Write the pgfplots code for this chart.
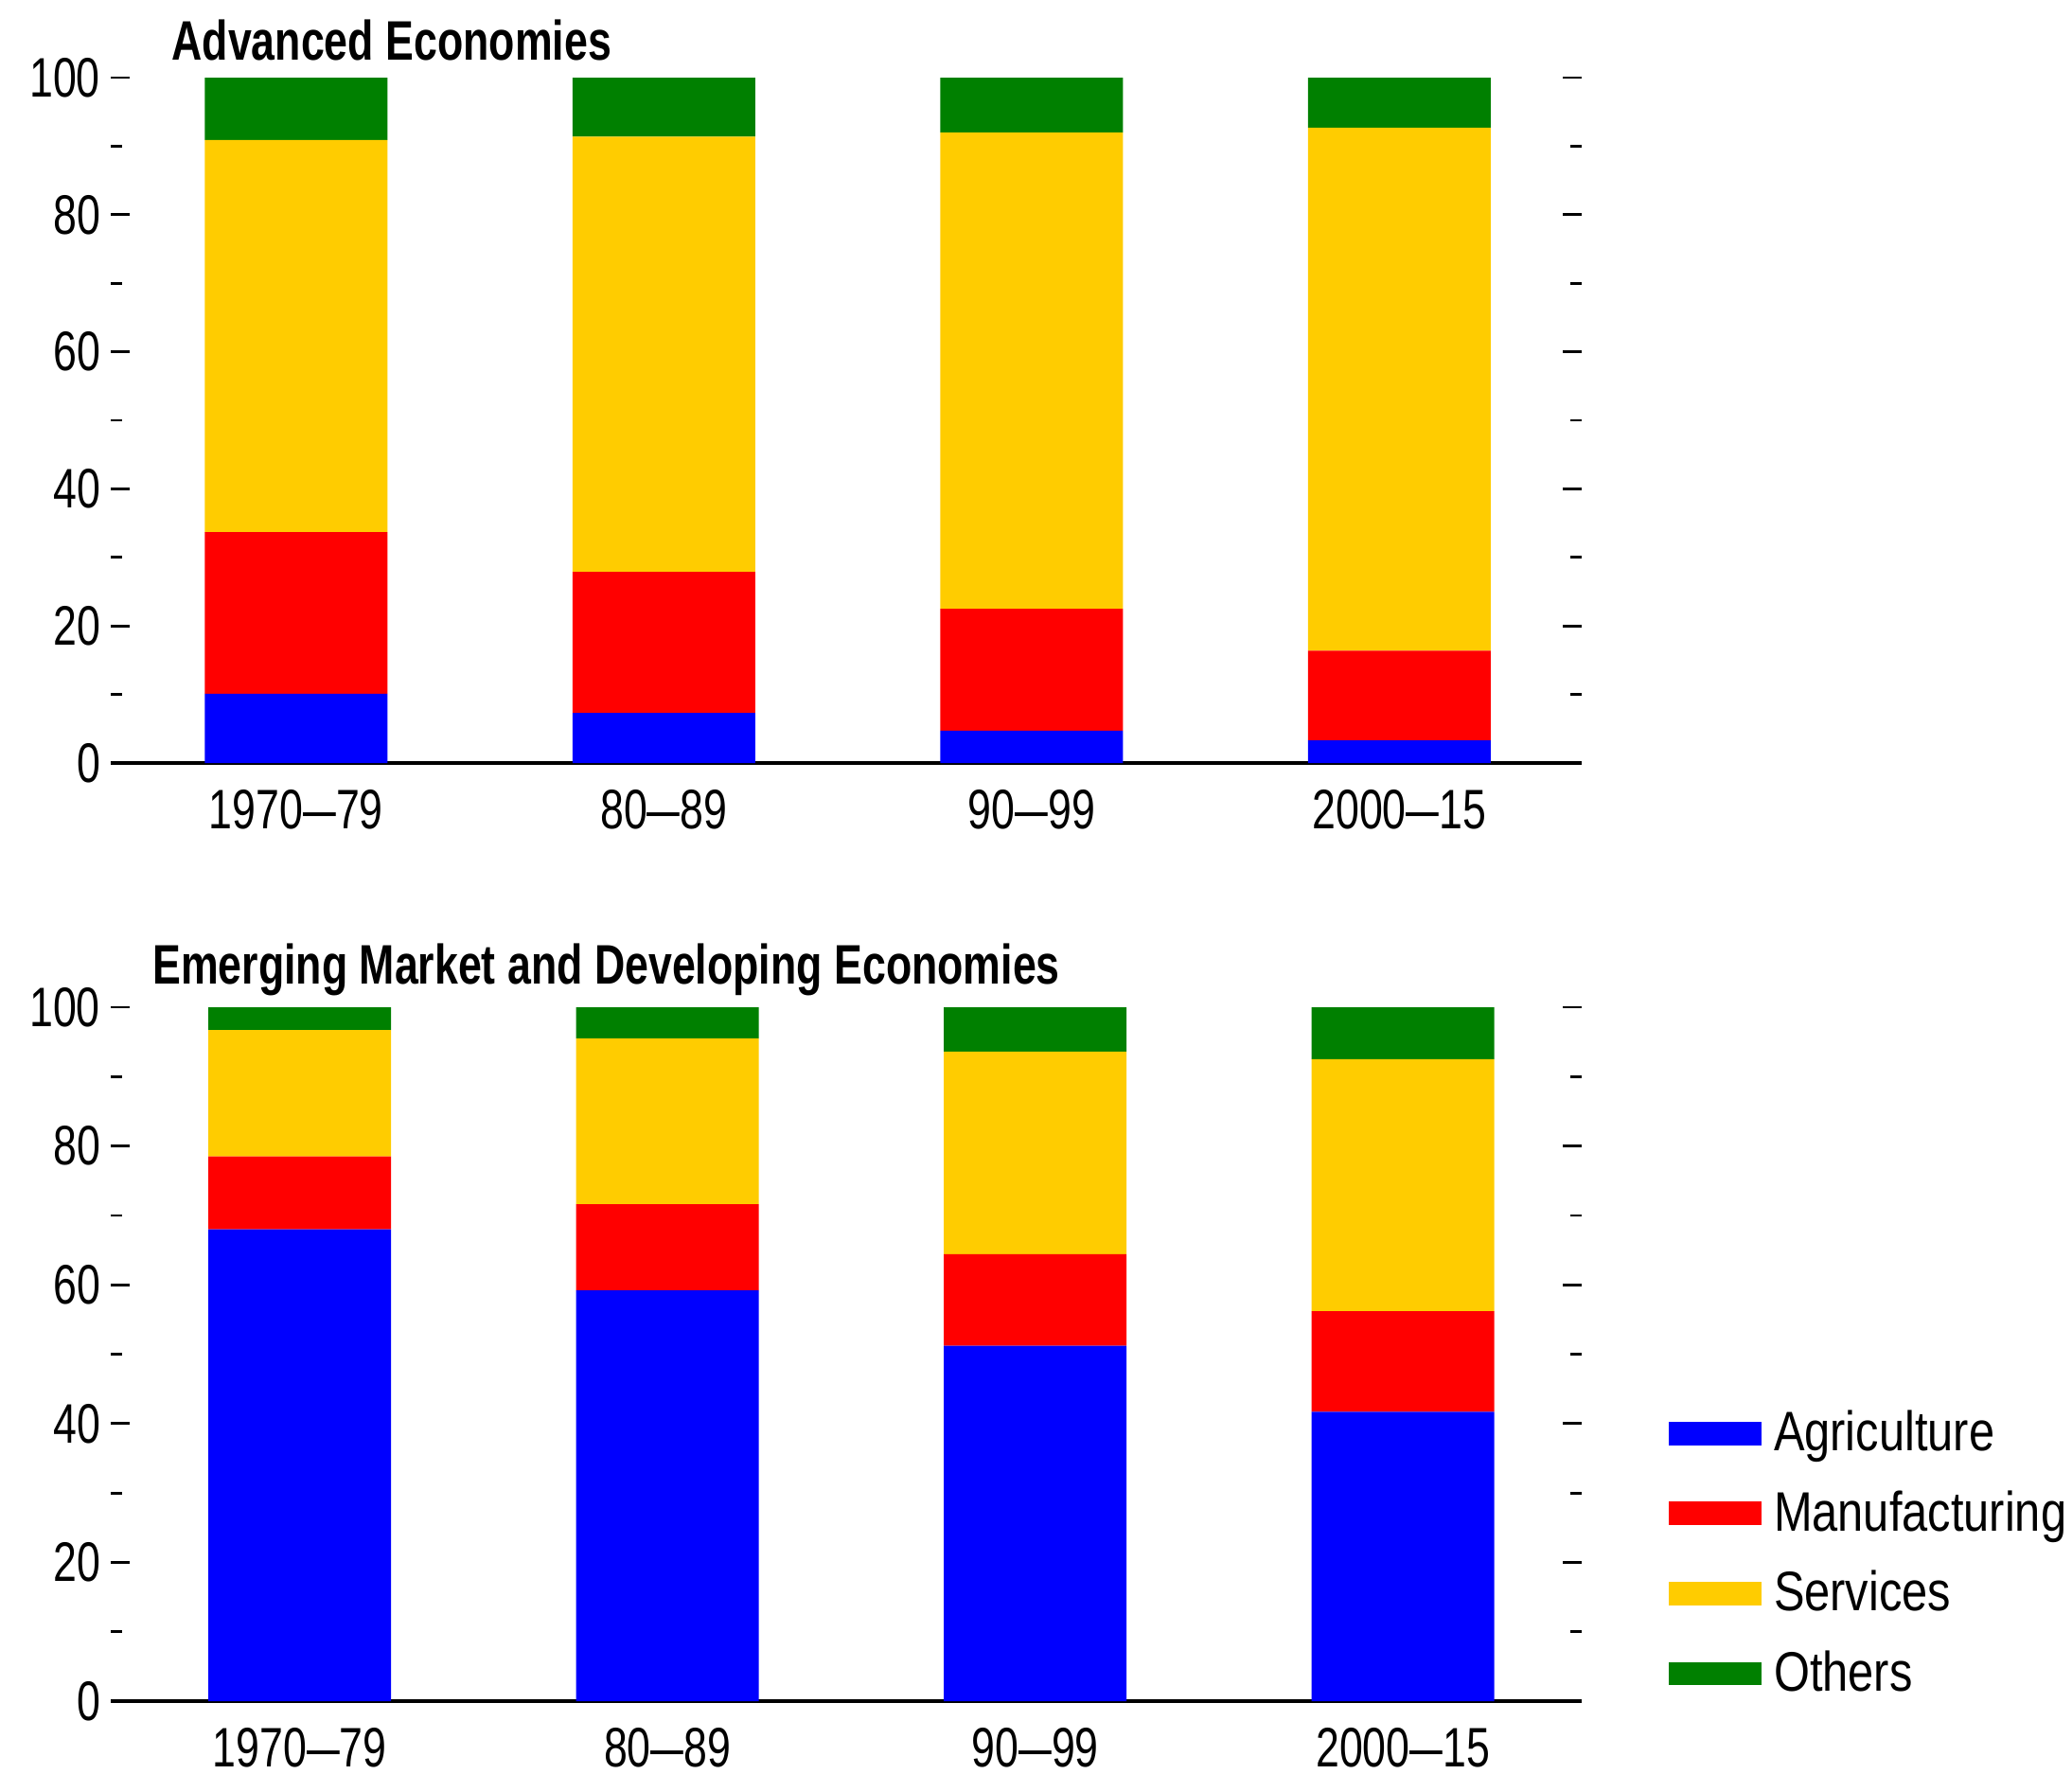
\documentclass[border=0pt]{standalone}
\usepackage{fontspec}
\setmainfont{Liberation Sans}[FakeStretch=0.76]
\newfontfamily\legfont{Liberation Sans}[FakeStretch=0.83]
\usepackage{pgfplots}
\pgfplotsset{compat=1.18}
\definecolor{cAgr}{RGB}{0,0,255}
\definecolor{cMan}{RGB}{255,0,0}
\definecolor{cSer}{RGB}{255,204,0}
\definecolor{cOth}{RGB}{0,128,0}
\newcommand{\tfont}{\fontsize{14.7}{16}\selectfont}
\newcommand{\ldash}{\scalebox{1.4}[1]{--}}
\pgfplotsset{
  myleg/.style={legend image code/.code={\fill[##1] (0pt,-3.1pt) rectangle (24.5pt,3.1pt); \path (26pt,0pt);}},
  panel/.style={
    scale only axis, width=388.5pt,
    ybar stacked, bar width=48.25pt,
    ymin=0, ymax=100, ytick={0,20,40,60,80,100}, minor y tick num=1,
    xtick={0,1,2,3},
    xticklabels={1970\ldash79,80\ldash89,90\ldash99,2000\ldash15},
    axis x line*=bottom,
    y axis line style={draw=none},
    x axis line style={line width=1.1pt},
    xtick style={draw=none},
    ytick style={line width=0.7pt, black},
    major tick length=5pt, minor tick length=3pt,
    tick label style={font=\tfont},
    /pgf/number format/assume math mode=true,
    yticklabel style={xshift=0.75pt},
    xticklabel style={yshift=-3.6pt},
    enlargelimits=false,
    title style={font=\bfseries\tfont, anchor=west, inner sep=0pt},
  }
}
\begin{document}
\begin{tikzpicture}
\path[use as bounding box] (0,0) rectangle (547.25pt,-468.5pt);
\begin{axis}[panel, height=181pt, xmin=-0.504, xmax=3.496,
  at={(29.25pt,-201.5pt)}, anchor=south west,
  title={Advanced Economies},
  title style={at={(axis description cs:0.041,1.022)}}]
\addplot[fill=cAgr, draw=none] coordinates {(0,10.1) (1,7.3) (2,4.7) (3,3.3)};
\addplot[fill=cMan, draw=none] coordinates {(0,23.6) (1,20.6) (2,17.8) (3,13.1)};
\addplot[fill=cSer, draw=none] coordinates {(0,57.2) (1,63.5) (2,69.5) (3,76.3)};
\addplot[fill=cOth, draw=none] coordinates {(0,9.1) (1,8.6) (2,8.0) (3,7.3)};
\end{axis}
\begin{axis}[panel, height=183.25pt, xmin=-0.514, xmax=3.486,
  at={(29.25pt,-449.25pt)}, anchor=south west,
  title={Emerging Market and Developing Economies},
  title style={at={(axis description cs:0.028,1.021)}},
  legend style={draw=none, fill=none, font=\legfont\fontsize{14.7}{16}\selectfont,
    at={(axis description cs:1.0586,0.43)}, anchor=north west,
    row sep=5.4pt, inner sep=0pt, nodes={inner sep=1.8pt}},
  legend cell align=left]
\addplot[fill=cAgr, draw=none, myleg] coordinates {(0,68.0) (1,59.2) (2,51.2) (3,41.7)};
\addplot[fill=cMan, draw=none, myleg] coordinates {(0,10.5) (1,12.4) (2,13.2) (3,14.5)};
\addplot[fill=cSer, draw=none, myleg] coordinates {(0,18.2) (1,23.9) (2,29.2) (3,36.3)};
\addplot[fill=cOth, draw=none, myleg] coordinates {(0,3.3) (1,4.5) (2,6.4) (3,7.5)};
\legend{Agriculture,Manufacturing,Services,Others}
\end{axis}
\end{tikzpicture}
\end{document}
